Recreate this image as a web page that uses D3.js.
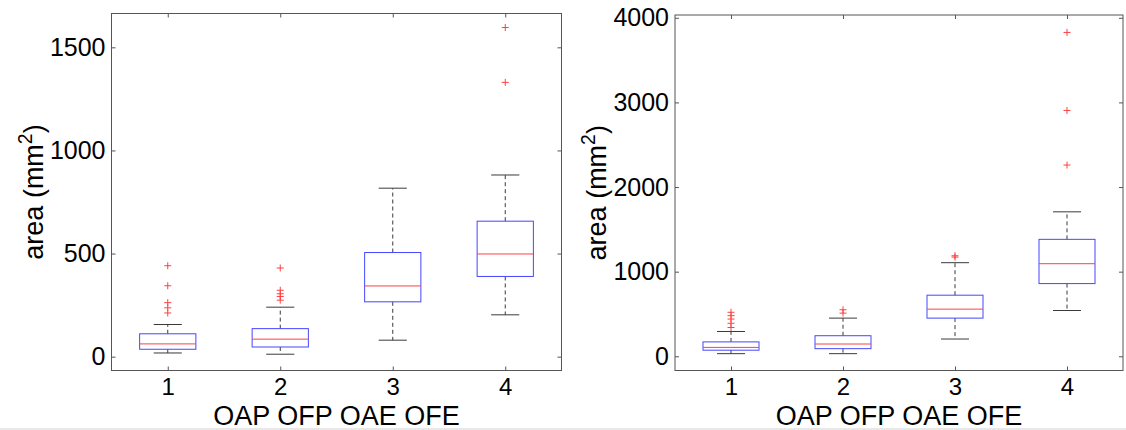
<!DOCTYPE html>
<html>
<head>
<meta charset="utf-8">
<script src="https://cdn.jsdelivr.net/npm/d3@7"></script>
<style>
  html, body { margin: 0; padding: 0; background: #fff; }
  svg { display: block; }
  text { font-family: "Liberation Sans", Arial, Helvetica, sans-serif; fill: #000; }
</style>
</head>
<body>
<svg id="chart" width="1126" height="430"></svg>
<script>
// Groups on the x axis and the axis titles
const categories = [1, 2, 3, 4];
const xTitle = "OAP OFP OAE OFE";
const yTitle = "area (mm";

// Left panel: tick values and box-plot statistics per group
const leftTicks = [0, 500, 1000, 1500];
const leftLowerWhisker = [18, 12, 80, 203];
const leftQ1 = [36, 47, 266, 389];
const leftMedian = [62, 85, 343, 498];
const leftQ3 = [111, 136, 505, 657];
const leftUpperWhisker = [156, 240, 817, 881];
const leftOutliers = [[441, 344, 262, 237, 212], [430, 322, 305, 292, 274], [], [1596, 1330]];

// Right panel: tick values and box-plot statistics per group
const rightTicks = [0, 1000, 2000, 3000, 4000];
const rightLowerWhisker = [31, 31, 204, 541];
const rightQ1 = [72, 90, 451, 859];
const rightMedian = [105, 145, 557, 1094];
const rightQ3 = [170, 243, 722, 1382];
const rightUpperWhisker = [293, 451, 1106, 1707];
const rightOutliers = [[520, 480, 440, 390, 340], [550, 510], [1188, 1172], [3827, 2905, 2260]];

// Layout of the two axes
const panels = [
  { left: 111.5, right: 561.5, top: 13.5, bottom: 370.5, yDomain: [-67, 1664],
    ticks: leftTicks, lo: leftLowerWhisker, q1: leftQ1, med: leftMedian, q3: leftQ3,
    hi: leftUpperWhisker, out: leftOutliers },
  { left: 675, right: 1123, top: 15, bottom: 370.5, yDomain: [-168, 4033],
    ticks: rightTicks, lo: rightLowerWhisker, q1: rightQ1, med: rightMedian, q3: rightQ3,
    hi: rightUpperWhisker, out: rightOutliers }
];

const svg = d3.select("#chart");
const frameColor = "#555";
const boxColor = "#4646ff";
const medianColor = "#ff4040";
const whiskerColor = "#3a3a3a";
const yTickFont = 25;
const xTickFont = 24;
const titleFont = 27;

// faint strip along the bottom edge of the figure
svg.append("rect").attr("x", 0).attr("y", 428).attr("width", 1126).attr("height", 2)
  .attr("fill", "#e8e8e8");

function drawPanel(p) {
  const g = svg.append("g");
  const x = d3.scaleLinear().domain([0.5, 4.5]).range([p.left, p.right]);
  const y = d3.scaleLinear().domain(p.yDomain).range([p.bottom, p.top]);

  // inward ticks on all four sides
  const axL = d3.axisLeft(y).tickValues(p.ticks).tickSizeInner(-4).tickSizeOuter(0)
    .tickPadding(6).tickFormat(d3.format("d"));
  const axR = d3.axisRight(y).tickValues(p.ticks).tickSizeInner(-4).tickSizeOuter(0).tickFormat("");
  const axB = d3.axisBottom(x).tickValues(categories).tickSizeInner(-4).tickSizeOuter(0)
    .tickPadding(7.5).tickFormat(d3.format("d"));
  const axT = d3.axisTop(x).tickValues(categories).tickSizeInner(-4).tickSizeOuter(0).tickFormat("");

  const styleAxis = (sel, size) => {
    sel.select(".domain").remove();
    sel.selectAll(".tick line").attr("stroke", frameColor);
    sel.selectAll(".tick text").attr("font-size", size).attr("fill", "#000")
      .style("font-family", "'Liberation Sans', Arial, sans-serif");
  };
  g.append("g").attr("transform", `translate(${p.left},0)`).call(axL).call(styleAxis, yTickFont);
  g.append("g").attr("transform", `translate(${p.right},0)`).call(axR).call(styleAxis, yTickFont);
  g.append("g").attr("transform", `translate(0,${p.bottom})`).call(axB).call(styleAxis, xTickFont);
  g.append("g").attr("transform", `translate(0,${p.top})`).call(axT).call(styleAxis, xTickFont);

  g.append("rect")
    .attr("x", p.left).attr("y", p.top)
    .attr("width", p.right - p.left).attr("height", p.bottom - p.top)
    .attr("fill", "none").attr("stroke", frameColor).attr("stroke-width", 1);

  const rows = categories.map((c, i) => ({
    c, lo: p.lo[i], q1: p.q1[i], med: p.med[i], q3: p.q3[i], hi: p.hi[i], out: p.out[i]
  }));

  const boxHalf = 0.25, capHalf = 0.125;
  const grp = g.selectAll(".bx").data(rows).join("g").attr("class", "bx");

  // dashed whiskers
  grp.append("line")
    .attr("x1", d => x(d.c)).attr("x2", d => x(d.c))
    .attr("y1", d => y(d.q3)).attr("y2", d => y(d.hi))
    .attr("stroke", whiskerColor).attr("stroke-dasharray", "4,3");
  grp.append("line")
    .attr("x1", d => x(d.c)).attr("x2", d => x(d.c))
    .attr("y1", d => y(d.q1)).attr("y2", d => y(d.lo))
    .attr("stroke", whiskerColor).attr("stroke-dasharray", "4,3");
  // whisker caps
  grp.append("line")
    .attr("x1", d => x(d.c - capHalf)).attr("x2", d => x(d.c + capHalf))
    .attr("y1", d => y(d.hi)).attr("y2", d => y(d.hi))
    .attr("stroke", whiskerColor);
  grp.append("line")
    .attr("x1", d => x(d.c - capHalf)).attr("x2", d => x(d.c + capHalf))
    .attr("y1", d => y(d.lo)).attr("y2", d => y(d.lo))
    .attr("stroke", whiskerColor);
  // boxes
  grp.append("rect")
    .attr("x", d => x(d.c - boxHalf)).attr("width", d => x(d.c + boxHalf) - x(d.c - boxHalf))
    .attr("y", d => y(d.q3)).attr("height", d => y(d.q1) - y(d.q3))
    .attr("fill", "none").attr("stroke", boxColor);
  // medians
  grp.append("line")
    .attr("x1", d => x(d.c - boxHalf)).attr("x2", d => x(d.c + boxHalf))
    .attr("y1", d => y(d.med)).attr("y2", d => y(d.med))
    .attr("stroke", medianColor);
  // outliers as plus markers
  grp.selectAll(".out").data(d => d.out.map(v => ({ c: d.c, v }))).join("path")
    .attr("class", "out")
    .attr("transform", d => `translate(${x(d.c)},${y(d.v)})`)
    .attr("d", "M-3.5,0H3.5M0,-3.5V3.5")
    .attr("stroke", medianColor).attr("fill", "none");

  // axis titles
  g.append("text")
    .attr("x", (p.left + p.right) / 2).attr("y", 425)
    .attr("text-anchor", "middle").attr("font-size", titleFont)
    .text(xTitle);

  const yt = g.append("text")
    .attr("transform", `translate(${p.left - 69},${(p.top + p.bottom) / 2}) rotate(-90)`)
    .attr("text-anchor", "middle").attr("font-size", titleFont);
  yt.append("tspan").text(yTitle);
  yt.append("tspan").attr("font-size", titleFont * 0.72).attr("dy", -11).text("2");
  yt.append("tspan").attr("dy", 11).text(")");
}

panels.forEach(drawPanel);
</script>
</body>
</html>
